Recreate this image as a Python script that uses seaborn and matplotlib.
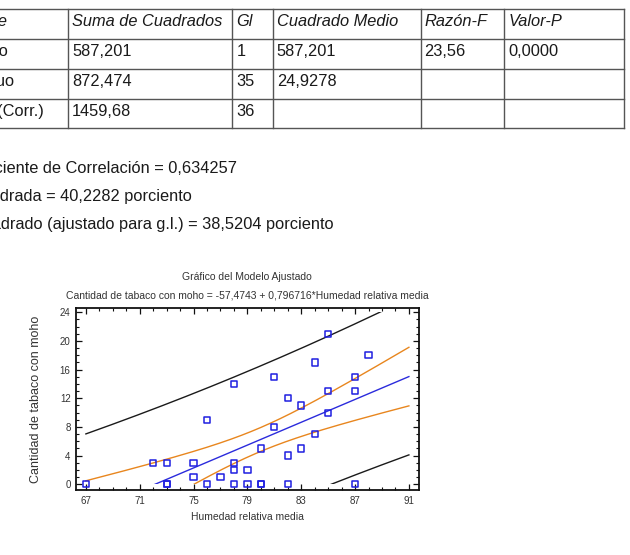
import numpy as np
import pandas as pd
import matplotlib
matplotlib.use("Agg")
import matplotlib.pyplot as plt
import seaborn as sns
from matplotlib.lines import Line2D
from matplotlib.patches import Rectangle
from matplotlib.ticker import MultipleLocator

# ---------------- data ----------------
table_header = ["Fuente", "Suma de Cuadrados", "Gl", "Cuadrado Medio", "Razón-F", "Valor-P"]
row_source = ["Modelo", "Residuo", "Total (Corr.)"]
row_ss = ["587,201", "872,474", "1459,68"]
row_gl = ["1", "35", "36"]
row_cm = ["587,201", "24,9278", ""]
row_f = ["23,56", "", ""]
row_p = ["0,0000", "", ""]

stats_lines = [
    "Coeficiente de Correlación = 0,634257",
    "R-cuadrada = 40,2282 porciento",
    "R-cuadrado (ajustado para g.l.) = 38,5204 porciento",
]

chart_title = "Gráfico del Modelo Ajustado"
chart_subtitle = "Cantidad de tabaco con moho = -57,4743 + 0,796716*Humedad relativa media"
x_label = "Humedad relativa media"
y_label = "Cantidad de tabaco con moho"

humedad = [67, 72, 73, 73, 73, 75, 75, 76, 76, 77, 78, 78, 78, 78, 79, 79, 80, 80, 80,
           81, 81, 82, 82, 82, 83, 83, 84, 84, 85, 85, 85, 87, 87, 87, 88]
tabaco = [0, 3, 3, 0, 0, 3, 1, 9, 0, 1, 14, 3, 2, 0, 2, 0, 5, 0, 0,
          15, 8, 12, 4, 0, 11, 5, 17, 7, 21, 13, 10, 15, 13, 0, 18]

# fitted model statistics (from the ANOVA output)
intercept = -57.4743
slope = 0.796716
ss_model = 587.201
ms_resid = 24.9278
n_obs = 37
t_crit = 2.0301  # t(0.975, 35 g.l.)

x_ticks = [67, 71, 75, 79, 83, 87, 91]
y_ticks = [0, 4, 8, 12, 16, 20, 24]

# ---------------- figure ----------------
W, H = 630, 555
fig = plt.figure(figsize=(W / 100, H / 100), dpi=100)
fig.patch.set_facecolor("white")
FONT = "Liberation Sans"


def fx(px):
    return px / W


def fy(py):
    return 1 - py / H


# ANOVA table
col_x = [68, 232.3, 272.7, 420.5, 504.3, 624.3]
row_y = [9, 39, 69, 99, 128]
line_kw = dict(color="#555555", lw=1.0)
for y in row_y:
    fig.add_artist(Line2D([fx(-5), fx(col_x[-1])], [fy(y), fy(y)], **line_kw))
for x in col_x:
    fig.add_artist(Line2D([fx(x), fx(x)], [fy(row_y[0]), fy(row_y[-1])], **line_kw))

tfs = 11.8
first_col_right = [7.5, 8.5, 15, 44]
rows = [table_header] + [
    [row_source[i], row_ss[i], row_gl[i], row_cm[i], row_f[i], row_p[i]] for i in range(3)
]
for r, row in enumerate(rows):
    base = fy(row_y[r] + 17)
    style = "italic" if r == 0 else "normal"
    fig.text(fx(first_col_right[r]), base, row[0], ha="right", va="baseline",
             fontsize=tfs, family=FONT, style=style, color="#1a1a1a")
    for c in range(1, 6):
        if row[c]:
            fig.text(fx(col_x[c - 1] + 4), base, row[c], ha="left", va="baseline",
                     fontsize=tfs, family=FONT, style=style, color="#1a1a1a")

# statistics lines (left part cut by the page edge)
stats_right = [237.3, 192.3, 333.3]
stats_base = [173, 201, 229]
for txt, xr, yb in zip(stats_lines, stats_right, stats_base):
    fig.text(fx(xr), fy(yb), txt, ha="right", va="baseline", fontsize=tfs,
             family=FONT, color="#1a1a1a")

# ---------------- chart ----------------
ax_l, ax_r, ax_t, ax_b = 76.2, 419.4, 307.7, 490
ax = fig.add_axes([fx(ax_l), fy(ax_b), (ax_r - ax_l) / W, (ax_b - ax_t) / H])

df = pd.DataFrame({"Humedad": humedad, "Tabaco": tabaco})

xbar = np.mean(humedad)
sxx = ss_model / slope ** 2
xs = np.linspace(x_ticks[0], x_ticks[-1], 400)
fit = intercept + slope * xs
se_mean = np.sqrt(ms_resid * (1 / n_obs + (xs - xbar) ** 2 / sxx))
se_pred = np.sqrt(ms_resid * (1 + 1 / n_obs + (xs - xbar) ** 2 / sxx))

clip = Rectangle((0, 0), 200, 24, transform=ax.transData)
curves = [
    (fit + t_crit * se_pred, "#1a1a1a"),
    (fit - t_crit * se_pred, "#1a1a1a"),
    (fit + t_crit * se_mean, "#e8861e"),
    (fit - t_crit * se_mean, "#e8861e"),
    (fit, "#2b2bdc"),
]
for yv, col in curves:
    ln, = ax.plot(xs, yv, color=col, lw=1.0)
    ln.set_clip_path(clip)

sns.scatterplot(data=df, x="Humedad", y="Tabaco", ax=ax, marker="s", s=20,
                facecolor="none", edgecolor="#1f1fe0", linewidth=1.1, zorder=5)

ax.set_xlim(66.28, 91.78)
ax.set_ylim(-0.8, 24.64)
ax.set_xticks(x_ticks)
ax.set_yticks(y_ticks)
ax.xaxis.set_minor_locator(MultipleLocator(1))
ax.yaxis.set_minor_locator(MultipleLocator(1))
ax.tick_params(which="both", direction="in", top=True, right=True, color="#111111")
ax.tick_params(which="major", length=4, width=0.9)
ax.tick_params(which="minor", length=2.2, width=0.8)
ax.tick_params(axis="x", labelsize=7, pad=4, labelcolor="#333333")
ax.tick_params(axis="y", labelsize=7, pad=4, labelcolor="#333333")
for lab in ax.get_xticklabels() + ax.get_yticklabels():
    lab.set_family(FONT)
for sp in ax.spines.values():
    sp.set_linewidth(1.3)
    sp.set_color("#111111")
ax.set_xlabel("")
ax.set_ylabel("")

fig.text(fx(247), fy(277), chart_title, ha="center", va="center", fontsize=7.5,
         family=FONT, color="#333333")
fig.text(fx(247), fy(295), chart_subtitle, ha="center", va="center", fontsize=7.5,
         family=FONT, color="#333333")
fig.text(fx(247), fy(517), x_label, ha="center", va="center", fontsize=7.5,
         family=FONT, color="#333333")
fig.text(fx(36), fy(399), y_label, ha="center", va="center", rotation=90,
         fontsize=9, family=FONT, color="#333333")

fig.savefig("out.png", dpi=100, facecolor="white")
